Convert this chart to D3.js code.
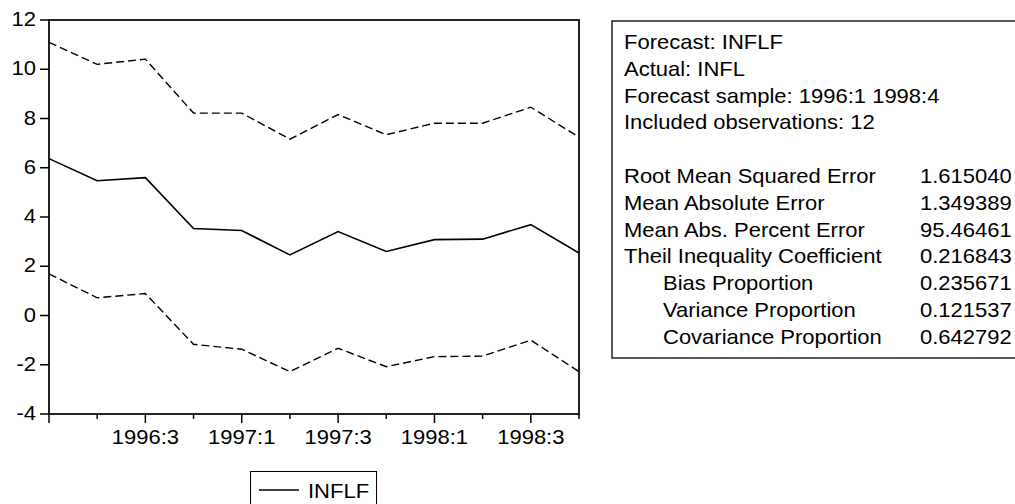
<!DOCTYPE html>
<html>
<head>
<meta charset="utf-8">
<script src="https://cdn.jsdelivr.net/npm/d3@7/dist/d3.min.js"></script>
<style>
  html, body { margin: 0; padding: 0; background: #fff; }
  svg { display: block; }
  text { font-family: "Liberation Sans", Arial, sans-serif; font-size: 20px; fill: #000; }
</style>
</head>
<body>
<svg id="chart" width="1015" height="504"></svg>
<script>
// Quarterly forecast of INFL with +/- 2 S.E. band
const quarters = ["1996:1","1996:2","1996:3","1996:4","1997:1","1997:2","1997:3","1997:4","1998:1","1998:2","1998:3","1998:4"];
const forecast = [6.37, 5.47, 5.60, 3.53, 3.45, 2.46, 3.41, 2.60, 3.08, 3.10, 3.69, 2.54];
const upperBand = [11.09, 10.20, 10.41, 8.22, 8.22, 7.16, 8.16, 7.34, 7.81, 7.81, 8.46, 7.24];
const lowerBand = [1.69, 0.72, 0.89, -1.17, -1.37, -2.28, -1.33, -2.08, -1.67, -1.65, -1.00, -2.28];
const yTicks = [-4, -2, 0, 2, 4, 6, 8, 10, 12];
const xLabelled = ["1996:3","1997:1","1997:3","1998:1","1998:3"];

// Forecast evaluation statistics
const infoLines = ["Forecast: INFLF", "Actual: INFL", "Forecast sample: 1996:1 1998:4", "Included observations: 12"];
const statNames = ["Root Mean Squared Error", "Mean Absolute Error", "Mean Abs. Percent Error", "Theil Inequality Coefficient",
                   "Bias Proportion", "Variance Proportion", "Covariance Proportion"];
const statValues = ["1.615040", "1.349389", "95.46461", "0.216843", "0.235671", "0.121537", "0.642792"];
const statIndented = [false, false, false, false, true, true, true];

const svg = d3.select("#chart");
const SX = 1.1; // glyphs are drawn slightly wide

function label(g, x, y, str, anchor) {
  return g.append("text")
    .attr("transform", `translate(${x},${y}) scale(${SX},1)`)
    .attr("text-anchor", anchor || "start")
    .text(str);
}

const plot = { left: 49, right: 579, top: 20, bottom: 414 };

const x = d3.scalePoint().domain(quarters).range([plot.left, plot.right]);
const y = d3.scaleLinear().domain([-4, 12]).range([plot.bottom, plot.top]);

// frame
svg.append("rect")
  .attr("x", plot.left).attr("y", plot.top)
  .attr("width", plot.right - plot.left).attr("height", plot.bottom - plot.top)
  .attr("fill", "none").attr("stroke", "#222").attr("stroke-width", 2);

// y axis ticks and labels
const gy = svg.append("g");
yTicks.forEach(v => {
  gy.append("line")
    .attr("x1", plot.left - 9).attr("x2", plot.left)
    .attr("y1", y(v)).attr("y2", y(v))
    .attr("stroke", "#000").attr("stroke-width", 1.5);
  label(gy, 36, y(v) + 6, String(v), "end");
});

// x axis ticks: long on odd quarters, short on even quarters
const gx = svg.append("g");
quarters.forEach((q, i) => {
  const len = (i % 2 === 0) ? 9 : 5;
  gx.append("line")
    .attr("x1", x(q)).attr("x2", x(q))
    .attr("y1", plot.bottom).attr("y2", plot.bottom + len)
    .attr("stroke", "#000").attr("stroke-width", 1.5);
});
xLabelled.forEach(q => label(gx, x(q), plot.bottom + 30, q, "middle"));

// series
const line = d3.line().x((d, i) => x(quarters[i])).y(d => y(d));
svg.append("path").datum(upperBand).attr("d", line)
  .attr("fill", "none").attr("stroke", "#000").attr("stroke-width", 1.4).attr("stroke-dasharray", "8,4");
svg.append("path").datum(lowerBand).attr("d", line)
  .attr("fill", "none").attr("stroke", "#000").attr("stroke-width", 1.4).attr("stroke-dasharray", "8,4");
svg.append("path").datum(forecast).attr("d", line)
  .attr("fill", "none").attr("stroke", "#000").attr("stroke-width", 1.6);

// legend
const lg = svg.append("g");
lg.append("rect").attr("x", 250.5).attr("y", 471.5).attr("width", 126).attr("height", 60)
  .attr("fill", "#fff").attr("stroke", "#000").attr("stroke-width", 1);
lg.append("line").attr("x1", 259).attr("x2", 299).attr("y1", 490).attr("y2", 490)
  .attr("stroke", "#000").attr("stroke-width", 1.4);
label(lg, 308, 498, "INFLF");

// statistics box
const sb = svg.append("g");
sb.append("rect").attr("x", 612).attr("y", 21).attr("width", 420).attr("height", 337)
  .attr("fill", "#fff").attr("stroke", "#222").attr("stroke-width", 1.5);
const lineH = 26.7;
infoLines.forEach((t, i) => label(sb, 624, 49.3 + i * lineH, t));
statNames.forEach((t, i) => {
  const yy = 183.3 + i * lineH;
  label(sb, statIndented[i] ? 663 : 624, yy, t);
  label(sb, 920, yy, statValues[i]);
});
</script>
</body>
</html>
